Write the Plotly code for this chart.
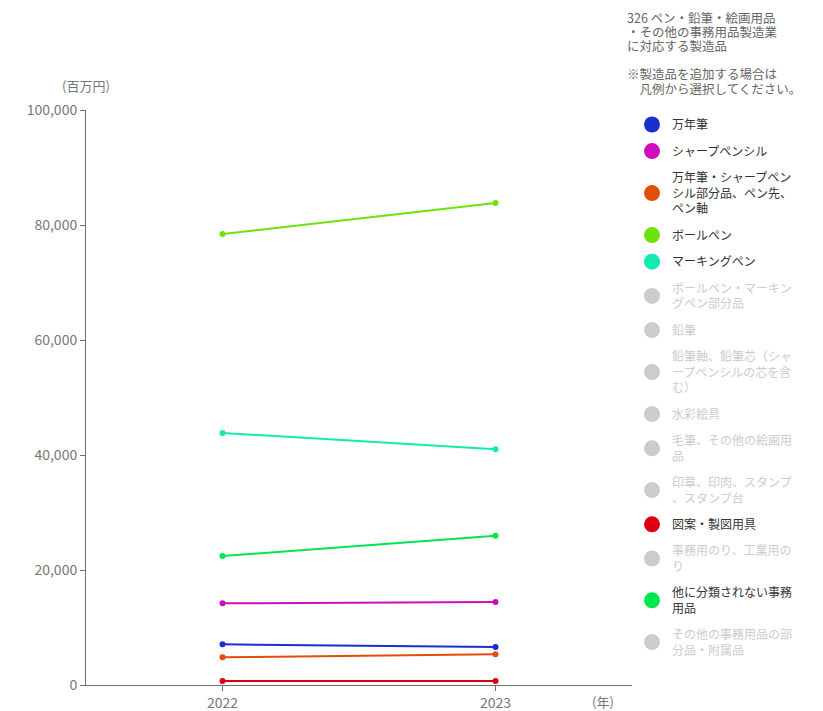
import plotly.graph_objects as go

years = [2022, 2023]

series_names = [
    "万年筆",
    "シャープペンシル",
    "万年筆・シャープペン<br>シル部分品、ペン先、<br>ペン軸",
    "ボールペン",
    "マーキングペン",
    "ボールペン・マーキン<br>グペン部分品",
    "鉛筆",
    "鉛筆軸、鉛筆芯（シャ<br>ープペンシルの芯を含<br>む）",
    "水彩絵具",
    "毛筆、その他の絵画用<br>品",
    "印章、印肉、スタンプ<br>、スタンプ台",
    "図案・製図用具",
    "事務用のり、工業用の<br>り",
    "他に分類されない事務<br>用品",
    "その他の事務用品の部<br>分品・附属品",
]

series_colors = [
    "#1b2ecf", "#cf0cbd", "#e04e0a", "#6fe20c", "#12eab0",
    None, None, None, None, None, None,
    "#dc0010", None, "#00e64f", None,
]

# values in 百万円 for 2022, 2023 (None = not selected / hidden)
series_values = [
    [7070, 6600],
    [14200, 14430],
    [4810, 5330],
    [78430, 83830],
    [43830, 41000],
    None, None, None, None, None, None,
    [700, 700],
    None,
    [22430, 25970],
    None,
]

title_lines = [
    "326 ペン・鉛筆・絵画用品",
    "・その他の事務用品製造業",
    "に対応する製造品",
    "※製造品を追加する場合は",
    "　凡例から選択してください。",
]

y_ticks = [0, 20000, 40000, 60000, 80000, 100000]

FONT = "Noto Sans CJK JP"

fig = go.Figure()

for name, color, vals in zip(series_names, series_colors, series_values):
    grp = name
    if vals is not None:
        fig.add_trace(go.Scatter(
            x=years, y=vals, mode="lines+markers", name=name,
            legendgroup=grp, showlegend=False,
            line=dict(color=color, width=2),
            marker=dict(color=color, size=6),
        ))
        fig.add_trace(go.Scatter(
            x=[None], y=[None], mode="markers", name=name,
            legendgroup=grp, showlegend=True,
            marker=dict(color=color, size=16),
        ))
    else:
        fig.add_trace(go.Scatter(
            x=[None], y=[None], mode="markers",
            name='<span style="color:#cccccc">' + name + "</span>",
            legendgroup=grp, showlegend=True,
            marker=dict(color="#cccccc", size=16),
        ))

axis_col = "#6e6e6e"

fig.update_layout(
    width=815, height=703,
    paper_bgcolor="white", plot_bgcolor="white",
    margin=dict(l=78, r=191, t=102, b=26, autoexpand=False),
    font=dict(family=FONT, size=13, color="#777777"),
    showlegend=True,
    legend=dict(
        x=1.0, xanchor="left", y=1.0, yanchor="top",
        font=dict(family=FONT, size=12, color="#333333"),
        tracegroupgap=7.6,
        itemclick=False, itemdoubleclick=False,
    ),
    xaxis=dict(
        range=[2021.5, 2023.5],
        tickmode="array", tickvals=years, ticktext=[str(y) for y in years],
        showgrid=False, zeroline=False,
        showline=True, linecolor=axis_col, linewidth=1,
        ticks="outside", ticklen=5, tickcolor=axis_col,
        tickfont=dict(size=14, color="#777777"),
    ),
    yaxis=dict(
        range=[0, 100000],
        tickmode="array", tickvals=y_ticks,
        ticktext=[f"{v:,}" for v in y_ticks],
        showgrid=False, zeroline=False,
        showline=True, linecolor=axis_col, linewidth=1,
        ticks="outside", ticklen=5, tickcolor=axis_col,
        tickfont=dict(size=14, color="#777777"),
    ),
)

annotations = [
    dict(text="(百万円)", xref="paper", yref="paper", x=0.0, y=1.0,
         yshift=25, xanchor="center", yanchor="middle", showarrow=False,
         font=dict(family=FONT, size=13, color="#777777")),
    dict(text="(年)", xref="paper", yref="paper", x=0.947, y=0.0,
         yshift=-16, xanchor="center", yanchor="middle", showarrow=False,
         font=dict(family=FONT, size=13, color="#777777")),
]
line_centers = [17, 31, 45, 73.5, 88]  # page pixels from the top
for txt, yc in zip(title_lines, line_centers):
    annotations.append(dict(
        text=txt, xref="paper", yref="paper", x=1.0, xshift=-6,
        y=1.0, yshift=110 - yc, xanchor="left", yanchor="middle",
        showarrow=False, align="left", borderpad=0,
        font=dict(family=FONT, size=12.5, color="#666666"),
    ))
fig.update_layout(annotations=annotations)

fig.write_html("out.html")
